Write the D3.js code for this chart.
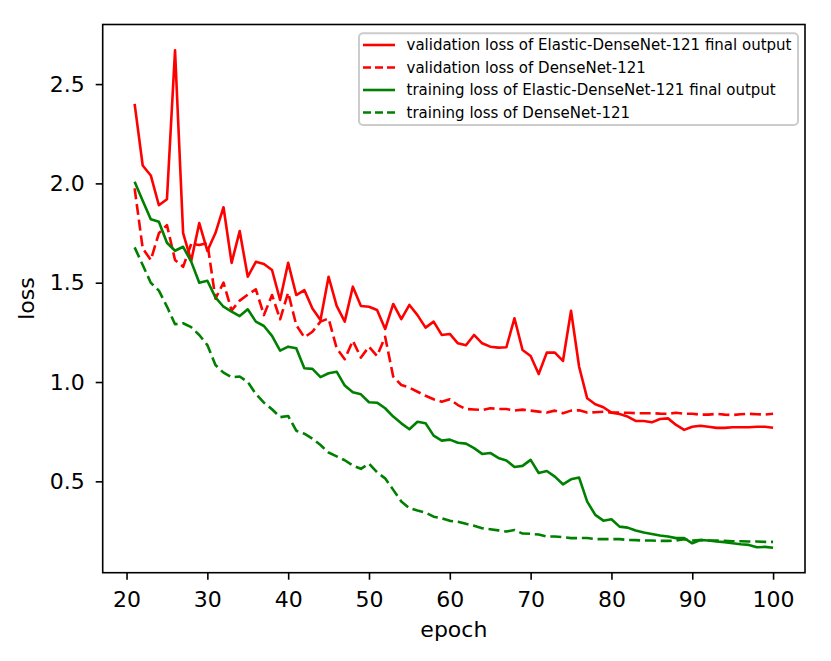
<!DOCTYPE html>
<meta charset="utf-8">
<script src="https://d3js.org/d3.v7.min.js"></script>
<style>
  body { margin: 0; background: #fff; }
  text { font-family: "DejaVu Sans", sans-serif; fill: #000; }
</style>
<div id="chart"></div>
<script>
// epochs 21..100
const epochs = d3.range(21, 101);

// validation loss, Elastic-DenseNet-121 final output (red solid)
const valElastic = [
  2.40, 2.09, 2.04, 1.89, 1.92, 2.67, 1.75, 1.61, 1.80, 1.66,
  1.75, 1.88, 1.60, 1.76, 1.53, 1.605, 1.594, 1.564, 1.413, 1.60,
  1.438, 1.463, 1.37, 1.312, 1.53, 1.383, 1.304, 1.48, 1.383, 1.379,
  1.363, 1.267, 1.393, 1.317, 1.388, 1.337, 1.274, 1.304, 1.237, 1.242,
  1.195, 1.185, 1.237, 1.195, 1.178, 1.173, 1.175, 1.321, 1.161, 1.131,
  1.04, 1.148, 1.148, 1.106, 1.359, 1.077, 0.918, 0.888, 0.873, 0.846,
  0.839, 0.826, 0.804, 0.804, 0.797, 0.814, 0.817, 0.784, 0.759, 0.775,
  0.780, 0.775, 0.769, 0.769, 0.772, 0.772, 0.772, 0.775, 0.775, 0.770
];

// validation loss, DenseNet-121 (red dashed)
const valDense = [
  1.975, 1.673, 1.614, 1.749, 1.79, 1.614, 1.58, 1.695, 1.69, 1.70,
  1.42, 1.50, 1.36, 1.41, 1.44, 1.467, 1.337, 1.438, 1.316, 1.45,
  1.287, 1.225, 1.253, 1.304, 1.32, 1.17, 1.115, 1.208, 1.123, 1.178,
  1.131, 1.228, 1.027, 0.985, 0.972, 0.951, 0.931, 0.913, 0.901, 0.913,
  0.884, 0.864, 0.862, 0.859, 0.868, 0.864, 0.864, 0.856, 0.861, 0.856,
  0.851, 0.846, 0.856, 0.843, 0.856, 0.858, 0.846, 0.848, 0.85, 0.846,
  0.846, 0.845, 0.843, 0.843, 0.843, 0.841, 0.84, 0.845, 0.84, 0.84,
  0.836, 0.836, 0.84, 0.836, 0.834, 0.838, 0.84, 0.838, 0.836, 0.84
];

// training loss, Elastic-DenseNet-121 final output (green solid)
const trainElastic = [
  2.008, 1.913, 1.819, 1.807, 1.701, 1.661, 1.681, 1.606, 1.50, 1.51,
  1.426, 1.379, 1.355, 1.332, 1.366, 1.304, 1.282, 1.232, 1.158, 1.178,
  1.17, 1.069, 1.066, 1.025, 1.044, 1.052, 0.982, 0.948, 0.938, 0.898,
  0.896, 0.868, 0.826, 0.792, 0.762, 0.80, 0.792, 0.730, 0.705, 0.71,
  0.694, 0.69, 0.667, 0.638, 0.643, 0.618, 0.605, 0.572, 0.578, 0.608,
  0.542, 0.552, 0.524, 0.485, 0.51, 0.519, 0.398, 0.331, 0.302, 0.309,
  0.272, 0.267, 0.252, 0.242, 0.235, 0.227, 0.222, 0.214, 0.214, 0.188,
  0.205, 0.202, 0.197, 0.194, 0.188, 0.183, 0.18, 0.168, 0.17, 0.166
];

// training loss, DenseNet-121 (green dashed)
const trainDense = [
  1.678, 1.589, 1.50, 1.46, 1.38, 1.291, 1.296, 1.276, 1.237, 1.186,
  1.086, 1.047, 1.024, 1.028, 1.0, 0.94, 0.896, 0.863, 0.823, 0.829,
  0.755, 0.74, 0.715, 0.683, 0.645, 0.626, 0.606, 0.58, 0.563, 0.589,
  0.545, 0.515, 0.457, 0.398, 0.365, 0.353, 0.343, 0.322, 0.314, 0.301,
  0.297, 0.286, 0.276, 0.264, 0.259, 0.253, 0.247, 0.255, 0.237, 0.236,
  0.232, 0.222, 0.222, 0.219, 0.214, 0.214, 0.215, 0.209, 0.209, 0.209,
  0.209, 0.205, 0.204, 0.202, 0.202, 0.2, 0.2, 0.202, 0.209, 0.202,
  0.205, 0.202, 0.202, 0.2, 0.198, 0.198, 0.197, 0.197, 0.195, 0.195
];

const xTicks = [20, 30, 40, 50, 60, 70, 80, 90, 100];
const yTicks = [0.5, 1.0, 1.5, 2.0, 2.5];

const seriesNames = [
  "validation loss of Elastic-DenseNet-121 final output",
  "validation loss of DenseNet-121",
  "training loss of Elastic-DenseNet-121 final output",
  "training loss of DenseNet-121"
];

const W = 831, H = 661;
const plotL = 102.7, plotR = 805, plotT = 24.5, plotB = 572.7;

const svg = d3.select("#chart").append("svg")
    .attr("width", W)
    .attr("height", H);

// scales (matplotlib-style 5% margins)
const x = d3.scaleLinear().domain([17.05, 103.95]).range([plotL, plotR]);
const y = d3.scaleLinear().domain([0.04, 2.80]).range([plotB, plotT]);

const series = [
  {name: seriesNames[0], values: valElastic, color: "#ff0000", dash: null},
  {name: seriesNames[1], values: valDense, color: "#ff0000", dash: "11,4.8"},
  {name: seriesNames[2], values: trainElastic, color: "#008000", dash: null},
  {name: seriesNames[3], values: trainDense, color: "#008000", dash: "11,4.8"}
];

const line = d3.line()
    .x((d, i) => x(epochs[i]))
    .y(d => y(d));

svg.append("g")
  .selectAll("path")
  .data(series)
  .join("path")
    .attr("d", d => line(d.values))
    .attr("fill", "none")
    .attr("stroke", d => d.color)
    .attr("stroke-width", 2.6)
    .attr("stroke-dasharray", d => d.dash)
    .attr("stroke-linejoin", "round");

// axes
const xAxis = svg.append("g")
    .attr("transform", `translate(0,${plotB})`)
    .call(d3.axisBottom(x).tickValues(xTicks).tickSize(7).tickPadding(12).tickSizeOuter(0));
const yAxis = svg.append("g")
    .attr("transform", `translate(${plotL},0)`)
    .call(d3.axisLeft(y).tickValues(yTicks).tickFormat(d3.format(".1f")).tickSize(7).tickPadding(11).tickSizeOuter(0));

[xAxis, yAxis].forEach(g => {
  g.select(".domain").remove();
  g.selectAll(".tick line").attr("stroke", "#000").attr("stroke-width", 1.6);
  g.selectAll(".tick text").attr("font-size", 22).attr("font-family", "DejaVu Sans");
});

// frame
svg.append("rect")
    .attr("x", plotL).attr("y", plotT)
    .attr("width", plotR - plotL).attr("height", plotB - plotT)
    .attr("fill", "none")
    .attr("stroke", "#000")
    .attr("stroke-width", 1.6);

// axis labels
svg.append("text")
    .attr("x", (plotL + plotR) / 2)
    .attr("y", 637)
    .attr("text-anchor", "middle")
    .attr("font-size", 22)
    .text("epoch");

svg.append("text")
    .attr("transform", `translate(33.5,${(plotT + plotB) / 2}) rotate(-90)`)
    .attr("text-anchor", "middle")
    .attr("font-size", 22)
    .text("loss");

// legend
const legend = svg.append("g");
legend.append("rect")
    .attr("x", 359).attr("y", 33.3)
    .attr("width", 439).attr("height", 91.7)
    .attr("rx", 4)
    .attr("fill", "#fff")
    .attr("fill-opacity", 0.8)
    .attr("stroke", "#cccccc")
    .attr("stroke-width", 2);

const rows = legend.selectAll("g.row")
  .data(series)
  .join("g")
    .attr("class", "row")
    .attr("transform", (d, i) => `translate(0,${45 + i * 22.5})`);

rows.append("line")
    .attr("x1", 363).attr("x2", 395)
    .attr("y1", 0).attr("y2", 0)
    .attr("stroke", d => d.color)
    .attr("stroke-width", 2.6)
    .attr("stroke-dasharray", d => d.dash ? "8,4" : null);

rows.append("text")
    .attr("x", 406.5)
    .attr("y", 5.3)
    .attr("font-size", 15)
    .text(d => d.name);
</script>
